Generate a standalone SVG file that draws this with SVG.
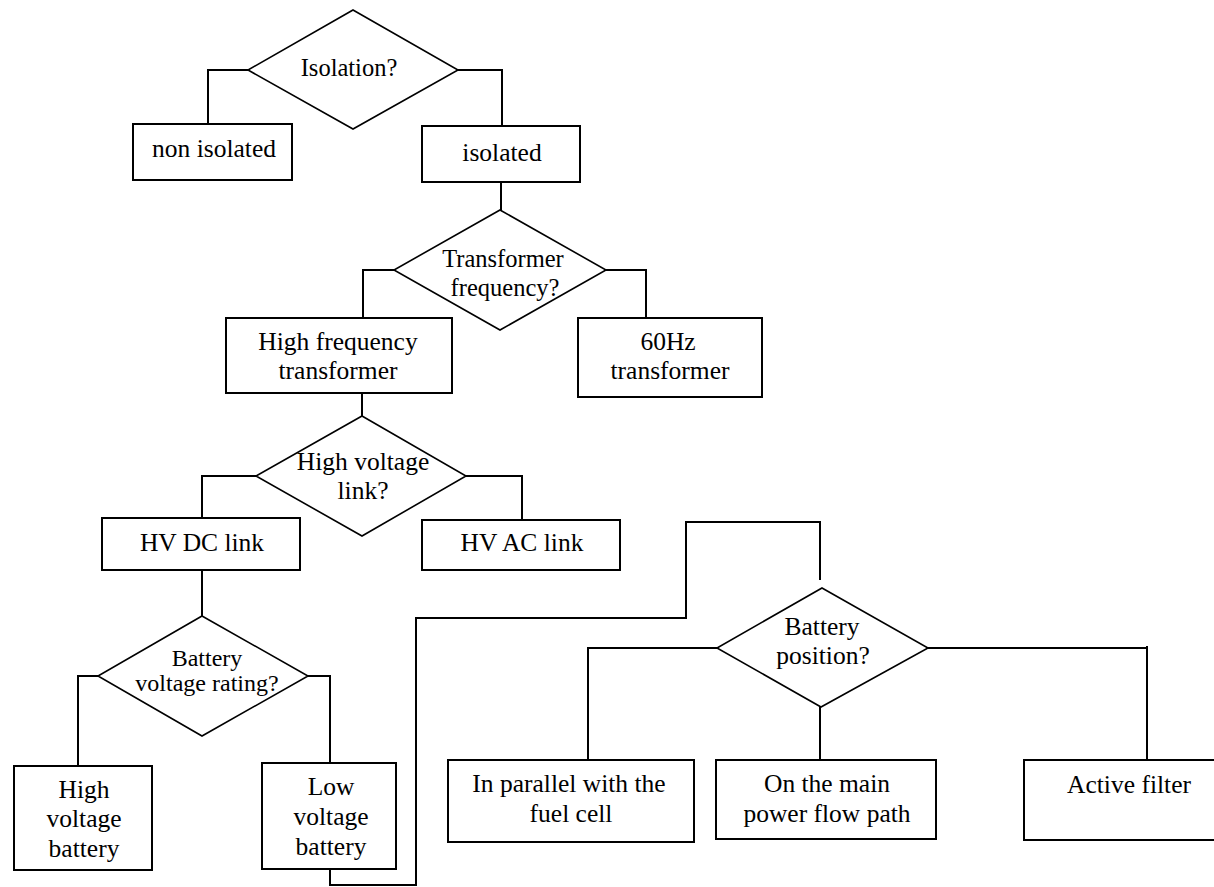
<svg xmlns="http://www.w3.org/2000/svg" width="1214" height="887" viewBox="0 0 1214 887">
<style>
.box{fill:#fff;stroke:#000;stroke-width:2}
.dia{fill:#fff;stroke:#000;stroke-width:1.6}
.t{font-size:25.5px;fill:#000;text-anchor:middle}
.c{fill:none;stroke:#000;stroke-width:2}
</style>
<rect width="1214" height="887" fill="#fff"/>
<g id="connectors">
<path class="c" d="M248,70 H208 V124"/>
<path class="c" d="M458,70 H502 V126"/>
<path class="c" d="M501,182 V210"/>
<path class="c" d="M394,270 H363 V318"/>
<path class="c" d="M606,270 H646 V322"/>
<path class="c" d="M362,393 V416"/>
<path class="c" d="M256,476 H202 V518"/>
<path class="c" d="M466,476 H522 V522"/>
<path class="c" d="M202,570 V616"/>
<path class="c" d="M98,676 H78 V766"/>
<path class="c" d="M308,676 H330 V765"/>
<path class="c" d="M330,869 V885 H416 V618 H686 V522 H820 V580"/>
<path class="c" d="M717,648 H588 V761"/>
<path class="c" d="M820,676 V772"/>
<path class="c" d="M928,648 H1147 V772"/>
<path class="c" d="M1147,646 V650"/>
</g>
<g font-family="Liberation Serif, Times New Roman, serif">
<g id="isolation">
<polygon class="dia" points="353,10 458,70 353,129 248,70"/>
<text class="t" x="349" y="76" style="font-size:24.5px">Isolation?</text>
</g>
<g id="non-isolated">
<rect class="box" x="133" y="124" width="159" height="56"/>
<text class="t" x="214" y="157">non isolated</text>
</g>
<g id="isolated">
<rect class="box" x="422" y="126" width="158" height="56"/>
<text class="t" x="502" y="161">isolated</text>
</g>
<g id="transformer-frequency">
<polygon class="dia" points="500,210 606,270 500,330 394,270"/>
<text class="t" x="503" y="267" style="font-size:24.5px">Transformer</text>
<text class="t" x="505" y="296" style="font-size:24.5px">frequency?</text>
</g>
<g id="hf-transformer">
<rect class="box" x="226" y="318" width="226" height="75"/>
<text class="t" x="338" y="350">High frequency</text>
<text class="t" x="338" y="379">transformer</text>
</g>
<g id="60hz-transformer">
<rect class="box" x="578" y="318" width="184" height="79"/>
<text class="t" x="668" y="350">60Hz</text>
<text class="t" x="670" y="379">transformer</text>
</g>
<g id="hv-link">
<polygon class="dia" points="362,416 466,476 362,536 256,476"/>
<text class="t" x="363" y="470">High voltage</text>
<text class="t" x="363" y="499">link?</text>
</g>
<g id="hv-dc-link">
<rect class="box" x="102" y="518" width="198" height="52"/>
<text class="t" x="202" y="551">HV DC link</text>
</g>
<g id="hv-ac-link">
<rect class="box" x="422" y="520" width="198" height="50"/>
<text class="t" x="522" y="551">HV AC link</text>
</g>
<g id="battery-voltage-rating">
<polygon class="dia" points="202,616 308,676 202,736 98,676"/>
<text class="t" x="207" y="666" style="font-size:24px">Battery</text>
<text class="t" x="207" y="691" style="font-size:24px">voltage rating?</text>
</g>
<g id="high-voltage-battery">
<rect class="box" x="14" y="766" width="138" height="104"/>
<text class="t" x="84" y="798">High</text>
<text class="t" x="84" y="827">voltage</text>
<text class="t" x="84" y="857">battery</text>
</g>
<g id="low-voltage-battery">
<rect class="box" x="262" y="763" width="134" height="106"/>
<text class="t" x="331" y="795">Low</text>
<text class="t" x="331" y="825">voltage</text>
<text class="t" x="331" y="855">battery</text>
</g>
<g id="battery-position">
<polygon class="dia" points="822,588 928,648 821,707 717,648"/>
<text class="t" x="822" y="635">Battery</text>
<text class="t" x="823" y="664">position?</text>
</g>
<g id="parallel-fuel-cell">
<rect class="box" x="448" y="760" width="246" height="82"/>
<text class="t" x="569" y="792">In parallel with the</text>
<text class="t" x="571" y="822">fuel cell</text>
</g>
<g id="main-power-flow">
<rect class="box" x="716" y="760" width="220" height="79"/>
<text class="t" x="827" y="792">On the main</text>
<text class="t" x="827" y="822">power flow path</text>
</g>
<g id="active-filter">
<rect class="box" x="1024" y="760" width="194" height="80"/>
<text class="t" x="1129" y="793">Active filter</text>
</g>
</g>
</svg>
